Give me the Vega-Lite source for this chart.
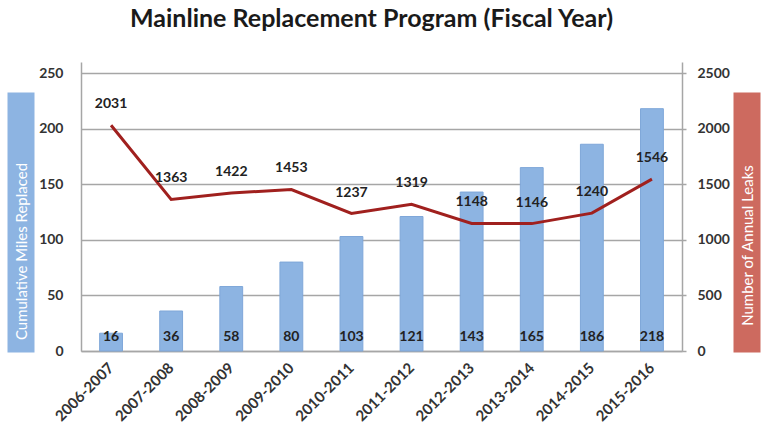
{
  "$schema": "https://vega.github.io/schema/vega-lite/v6.json",
  "autosize": "none",
  "width": 601,
  "height": 289,
  "padding": {"left": 81, "top": 62, "right": 82, "bottom": 75},
  "background": "white",
  "title": {
    "text": "Mainline Replacement Program (Fiscal Year)",
    "font": "Lato",
    "fontSize": 25,
    "fontWeight": "bold",
    "color": "#1a1a1a",
    "anchor": "middle",
    "baseline": "alphabetic",
    "offset": 10,
    "dx": -10
  },
  "config": {
    "view": {"stroke": null},
    "axis": {"labelFont": "Lato", "labelColor": "#222222", "titleFont": "Lato"}
  },
  "data": {
    "values": [
      {"year": "2006-2007", "miles": 16, "leaks": 2031},
      {"year": "2007-2008", "miles": 36, "leaks": 1363},
      {"year": "2008-2009", "miles": 58, "leaks": 1422},
      {"year": "2009-2010", "miles": 80, "leaks": 1453},
      {"year": "2010-2011", "miles": 103, "leaks": 1237},
      {"year": "2011-2012", "miles": 121, "leaks": 1319},
      {"year": "2012-2013", "miles": 143, "leaks": 1148},
      {"year": "2013-2014", "miles": 165, "leaks": 1146},
      {"year": "2014-2015", "miles": 186, "leaks": 1240},
      {"year": "2015-2016", "miles": 218, "leaks": 1546}
    ]
  },
  "encoding": {
    "x": {
      "field": "year",
      "type": "ordinal",
      "sort": null,
      "scale": {"paddingInner": 0, "paddingOuter": 0},
      "axis": {
        "title": null,
        "domain": true,
        "domainColor": "#a6a6a6",
        "domainWidth": 1.5,
        "ticks": false,
        "labelAngle": -45,
        "labelAlign": "right",
        "labelBaseline": "middle",
        "labelPadding": 14,
        "labelFontSize": 15,
        "labelFontWeight": "bold",
        "labelColor": "#333333"
      }
    }
  },
  "layer": [
    {
      "layer": [
        {
          "mark": {"type": "bar", "color": "#8DB4E2", "stroke": "#7FA7D9", "strokeWidth": 1, "width": {"band": 0.38}},
          "encoding": {
            "y": {
              "field": "miles",
              "type": "quantitative",
              "scale": {"domain": [0, 250]},
              "axis": {
                "orient": "left",
                "title": null,
                "values": [0, 50, 100, 150, 200, 250],
                "grid": true,
                "gridColor": "#a6a6a6",
                "gridWidth": 1.5,
                "domain": true,
                "domainColor": "#a6a6a6",
                "domainWidth": 1.5,
                "ticks": false,
                "tickSize": 0,
                "labelPadding": 18,
                "labelFontSize": 14,
                "labelFontWeight": "bold",
                "labelColor": "#333333"
              }
            }
          }
        },
        {
          "mark": {"type": "text", "font": "Lato", "fontSize": 14, "fontWeight": "bold", "color": "#222222", "baseline": "alphabetic", "dy": -10},
          "encoding": {
            "y": {"datum": 0, "type": "quantitative"},
            "text": {"field": "miles", "type": "quantitative"}
          }
        }
      ]
    },
    {
      "layer": [
        {
          "mark": {"type": "line", "color": "#A0201E", "strokeWidth": 3},
          "encoding": {
            "y": {
              "field": "leaks",
              "type": "quantitative",
              "scale": {"domain": [0, 2500]},
              "axis": {
                "orient": "right",
                "title": null,
                "values": [0, 500, 1000, 1500, 2000, 2500],
                "format": "d",
                "grid": false,
                "domain": true,
                "domainColor": "#a6a6a6",
                "domainWidth": 1.5,
                "ticks": true,
                "tickSize": 4,
                "tickColor": "#a6a6a6",
                "tickWidth": 1.5,
                "labelPadding": 11,
                "labelFontSize": 14,
                "labelFontWeight": "bold",
                "labelColor": "#333333"
              }
            }
          }
        },
        {
          "mark": {"type": "text", "font": "Lato", "fontSize": 14, "fontWeight": "bold", "color": "#222222", "baseline": "middle", "dy": -21},
          "encoding": {
            "y": {"field": "leaks", "type": "quantitative"},
            "text": {"field": "leaks", "type": "quantitative", "format": "d"}
          }
        }
      ]
    },
    {
      "mark": {"type": "point", "opacity": 0},
      "encoding": {
        "y": {
          "field": "miles",
          "type": "quantitative",
          "scale": {"domain": [0, 250], "range": [290, 30]},
          "axis": {
            "orient": "left",
            "offset": 60.5,
            "grid": false,
            "ticks": false,
            "labels": false,
            "domain": true,
            "domainColor": "#8DB4E2",
            "domainWidth": 27,
            "title": "Cumulative Miles Replaced",
            "titleColor": "white",
            "titleFontSize": 15,
            "titleFontWeight": "normal",
            "titleAngle": 270,
            "titleAlign": "center",
            "titleBaseline": "middle",
            "titleX": 1,
            "titleY": 189
          }
        }
      }
    },
    {
      "mark": {"type": "point", "opacity": 0},
      "encoding": {
        "y": {
          "field": "leaks",
          "type": "quantitative",
          "scale": {"domain": [0, 2500], "range": [290, 30]},
          "axis": {
            "orient": "right",
            "offset": 64.5,
            "grid": false,
            "ticks": false,
            "labels": false,
            "domain": true,
            "domainColor": "#CD6A5F",
            "domainWidth": 27,
            "title": "Number of Annual Leaks",
            "titleColor": "white",
            "titleFontSize": 15,
            "titleFontWeight": "normal",
            "titleAngle": 270,
            "titleAlign": "center",
            "titleBaseline": "middle",
            "titleX": 1,
            "titleY": 183
          }
        }
      }
    }
  ],
  "resolve": {"scale": {"y": "independent"}}
}
